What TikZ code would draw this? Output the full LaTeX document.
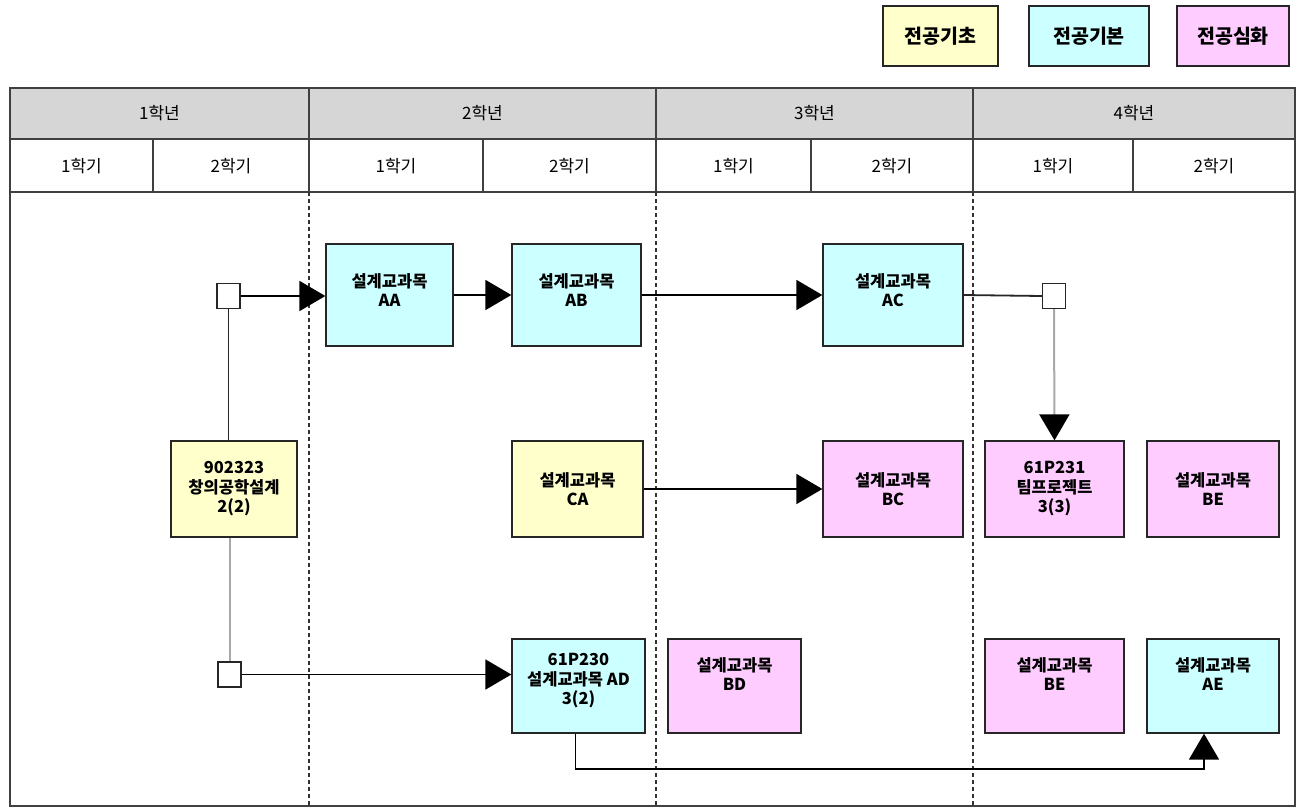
\documentclass[tikz,border=0pt]{standalone}
\usepackage{fontspec}
\setmainfont{Noto Sans CJK KR}
\usetikzlibrary{arrows.meta,calc}
\definecolor{yelf}{HTML}{FFFFCC}
\definecolor{cyaf}{HTML}{CCFFFF}
\definecolor{pinf}{HTML}{FFCCFF}
\definecolor{headgray}{HTML}{D6D6D6}
\definecolor{linegray}{HTML}{A8A8A8}
\begin{document}
\begin{tikzpicture}[x=1pt,y=-1pt,
  course/.style={draw=black!85, line width=1.3pt, align=center, inner sep=0pt,
    font=\bfseries\fontsize{16.5}{19.5}\selectfont},
  raised/.style={text depth=24pt},
  legendbox/.style={draw=black!85, line width=1.5pt, inner sep=0pt,
    minimum height=60pt, font=\bfseries\fontsize{19.5}{22}\selectfont},
  junction/.style={draw=black!85, fill=white, line width=1.2pt, inner sep=0pt,
    minimum width=23pt, minimum height=25pt},
  headtext/.style={font=\fontsize{17}{20}\selectfont, inner sep=0pt},
  tbl/.style={draw=black!75, line width=1.5pt},
  arr/.style={-{Triangle[length=26pt,width=30pt,color=black]}, line width=1.8pt, draw=black},
  garr/.style={-{Triangle[length=26pt,width=30pt,color=black]}, line width=2pt, draw=linegray},
  plain/.style={line width=1.8pt, draw=black!85},
  gplain/.style={line width=2pt, draw=linegray}
]
\useasboundingbox (0,0) rectangle (1301,809);
\fill[white] (0,0) rectangle (1301,809);

% legend
\node[legendbox, fill=yelf, minimum width=115pt] (lg1) at (940.5,36) {전공기초};
\node[legendbox, fill=cyaf, minimum width=120pt] (lg2) at (1089,36) {전공기본};
\node[legendbox, fill=pinf, minimum width=112pt] (lg3) at (1233,36) {전공심화};

% table
\fill[headgray] (10,88) rectangle (1295,139);
\draw[tbl] (10,88) rectangle (1295,806);
\draw[tbl] (10,139) -- (1295,139);
\draw[tbl] (10,192) -- (1295,192);
\foreach \x in {309,656,973} \draw[tbl] (\x,88) -- (\x,192);
\foreach \x in {153,483,811,1133} \draw[tbl] (\x,139) -- (\x,192);
\foreach \x in {309,656,973} \draw[black!80, line width=1.3pt, dash pattern=on 4pt off 3pt] (\x,192) -- (\x,806);

\node[headtext] (yr1) at (159.5,113) {1학년};
\node[headtext] (yr2) at (482.5,113) {2학년};
\node[headtext] (yr3) at (814.5,113) {3학년};
\node[headtext] (yr4) at (1134,113) {4학년};
\node[headtext] (s11) at (81.5,166) {1학기};
\node[headtext] (s12) at (231,166) {2학기};
\node[headtext] (s21) at (396,166) {1학기};
\node[headtext] (s22) at (569.5,166) {2학기};
\node[headtext] (s31) at (733.5,166) {1학기};
\node[headtext] (s32) at (892,166) {2학기};
\node[headtext] (s41) at (1053,166) {1학기};
\node[headtext] (s42) at (1214,166) {2학기};

% courses
\node[course, fill=cyaf, minimum width=127pt, minimum height=102pt, text depth=10pt] (AA) at (389.5,295) {설계교과목\\AA};
\node[course, fill=cyaf, minimum width=129pt, minimum height=102pt, text depth=10pt] (AB) at (576.5,295) {설계교과목\\AB};
\node[course, fill=cyaf, minimum width=140pt, minimum height=102pt, text depth=10pt] (AC) at (893,295) {설계교과목\\AC};

\node[course, fill=yelf, minimum width=126pt, minimum height=96pt] (CR) at (234,489) {902323\\창의공학설계\\2(2)};
\node[course, fill=yelf, minimum width=131pt, minimum height=96pt] (CA) at (577.5,489) {설계교과목\\CA};
\node[course, fill=pinf, minimum width=140pt, minimum height=96pt] (BC) at (893,489) {설계교과목\\BC};
\node[course, fill=pinf, minimum width=139pt, minimum height=96pt] (TP) at (1054.5,489) {61P231\\팀프로젝트\\3(3)};
\node[course, fill=pinf, minimum width=132pt, minimum height=96pt] (BEa) at (1213,489) {설계교과목\\BE};

\node[course, fill=cyaf, minimum width=133pt, minimum height=94pt, text depth=14pt] (AD) at (578.5,686) {61P230\\설계교과목 AD\\3(2)};
\node[course, raised, fill=pinf, minimum width=133pt, minimum height=94pt] (BD) at (734.5,686) {설계교과목\\BD};
\node[course, raised, fill=pinf, minimum width=139pt, minimum height=94pt] (BEb) at (1054.5,686) {설계교과목\\BE};
\node[course, raised, fill=cyaf, minimum width=132pt, minimum height=94pt] (AE) at (1213,686) {설계교과목\\AE};

% junctions
\node[junction] (J1) at (228.5,296) {};
\node[junction] (J2) at (1054,296) {};
\node[junction] (J3) at (229.5,674.5) {};

\coordinate (lowrow) at (0,769);

% connectors
\draw[arr] (J1.east) -- (J1.east -| AA.west);
\draw[arr] (AA.east) -- (AB.west);
\draw[arr] (AB.east) -- (AC.west);
\draw[plain] (AC.east) -- (J2.west);
\draw[garr] (J2.south) -- (TP.north);
\draw[arr] (CA.east) -- (BC.west);
\draw[plain] (J1.south) -- (J1.south |- CR.north);
\draw[gplain] (J3.north |- CR.south) -- (J3.north);
\draw[arr] (J3.east) -- (J3.east -| AD.west);
\draw[arr] ([xshift=-3pt]AD.south) -- ([xshift=-3pt]AD.south |- lowrow) -| ([xshift=-9pt]AE.south);
\end{tikzpicture}
\end{document}
